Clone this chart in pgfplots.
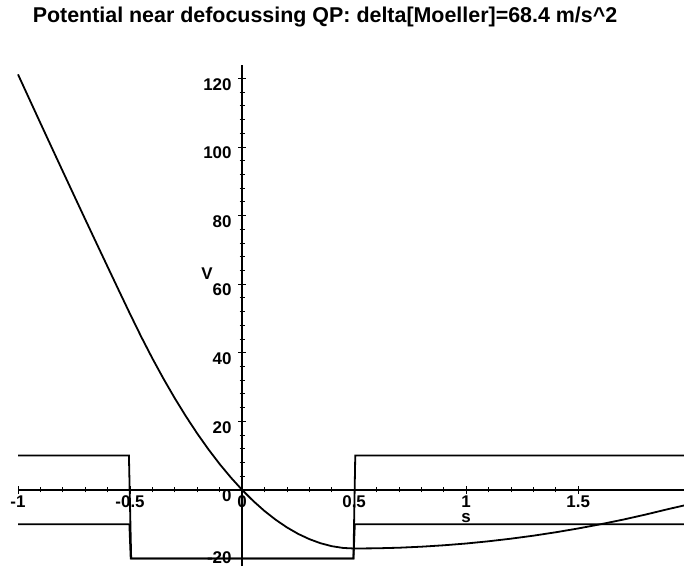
\documentclass[border=0pt]{standalone}
\usepackage{pgfplots}
\pgfplotsset{compat=1.18}
\usepackage{fontspec}
\setmainfont{Liberation Sans}
\begin{document}
\begin{tikzpicture}
\begin{axis}[
  scale only axis, width=666bp, height=501bp,
  xmin=-1, xmax=1.972, ymin=-22.2, ymax=123.9,
  axis lines=middle,
  axis line style={line width=1.7bp, -},
  xtick={-1,-0.5,0,0.5,1,1.5},
  xticklabels={-1,-0.5,0,0.5,1,1.5},
  minor x tick num=4,
  ytick={0,20,40,60,80,100,120},
  yticklabels={0,20,40,60,80,100,120},
  extra y ticks={-20},
  extra y tick labels={-20},
  extra y tick style={yticklabel style={yshift=7bp}},
  minor y tick num=4,
  hide obscured x ticks=false, hide obscured y ticks=false,
  tick align=center,
  major tick length=8bp, minor tick length=5bp,
  tick style={line width=0.8bp, black},
  ticklabel style={font=\fontsize{17}{17}\selectfont\bfseries},
  /pgf/number format/assume math mode=true,
  xticklabel style={anchor=north, yshift=2bp},
  yticklabel style={anchor=east, xshift=-3bp, yshift=-6bp},
  xlabel={s}, ylabel={V},
  every axis x label/.style={at={(axis cs:1,-8.2)}, anchor=center, font=\fontsize{17}{17}\selectfont\bfseries},
  every axis y label/.style={at={(axis cs:-0.156,63)}, anchor=center, font=\fontsize{17}{17}\selectfont\bfseries},
  clip=false,
]
% potential curve
\addplot[black, line width=1.8bp, no marks] coordinates {
(-1.00,121.16) (-0.95,114.05) (-0.90,106.96) (-0.85,99.90) (-0.80,92.87)
(-0.75,85.87) (-0.70,78.89) (-0.65,71.95) (-0.60,65.04) (-0.55,58.15)
(-0.50,51.30) (-0.45,44.63) (-0.40,38.30) (-0.35,32.32) (-0.30,26.68)
(-0.25,21.38) (-0.20,16.42) (-0.15,11.80) (-0.10,7.52) (-0.05,3.59)
(0.00,0.00) (0.05,-3.25) (0.10,-6.16) (0.15,-8.72) (0.20,-10.94)
(0.25,-12.83) (0.30,-14.36) (0.35,-15.56) (0.40,-16.42) (0.45,-16.93)
(0.50,-17.10) (0.60,-17.04) (0.70,-16.87) (0.80,-16.57) (0.90,-16.16)
(1.00,-15.64) (1.10,-14.99) (1.20,-14.23) (1.30,-13.36) (1.40,-12.36)
(1.50,-11.25) (1.60,-10.02) (1.70,-8.68) (1.80,-7.21) (1.90,-5.63)
(1.972,-4.55)
};
% upper step function
\addplot[black, line width=1.8bp, no marks] coordinates {
(-1,10) (-0.505,10) (-0.495,-20) (0.497,-20) (0.505,10) (1.972,10)
};
% lower step function
\addplot[black, line width=1.8bp, no marks] coordinates {
(-1,-10) (-0.503,-10) (-0.497,-20) (0.497,-20) (0.503,-10) (1.972,-10)
};
\end{axis}
\pgfresetboundingbox
\path[use as bounding box] ([xshift=-18bp,yshift=-1bp]current axis.south west) rectangle ([yshift=65bp]current axis.north east);
\node[anchor=base, inner sep=0pt, font=\fontsize{21.5}{21.5}\selectfont\bfseries] at ([xshift=307bp,yshift=42.5bp]current axis.north west) {Potential near defocussing QP: delta[Moeller]=68.4 m/s\textasciicircum 2};
\end{tikzpicture}
\end{document}
